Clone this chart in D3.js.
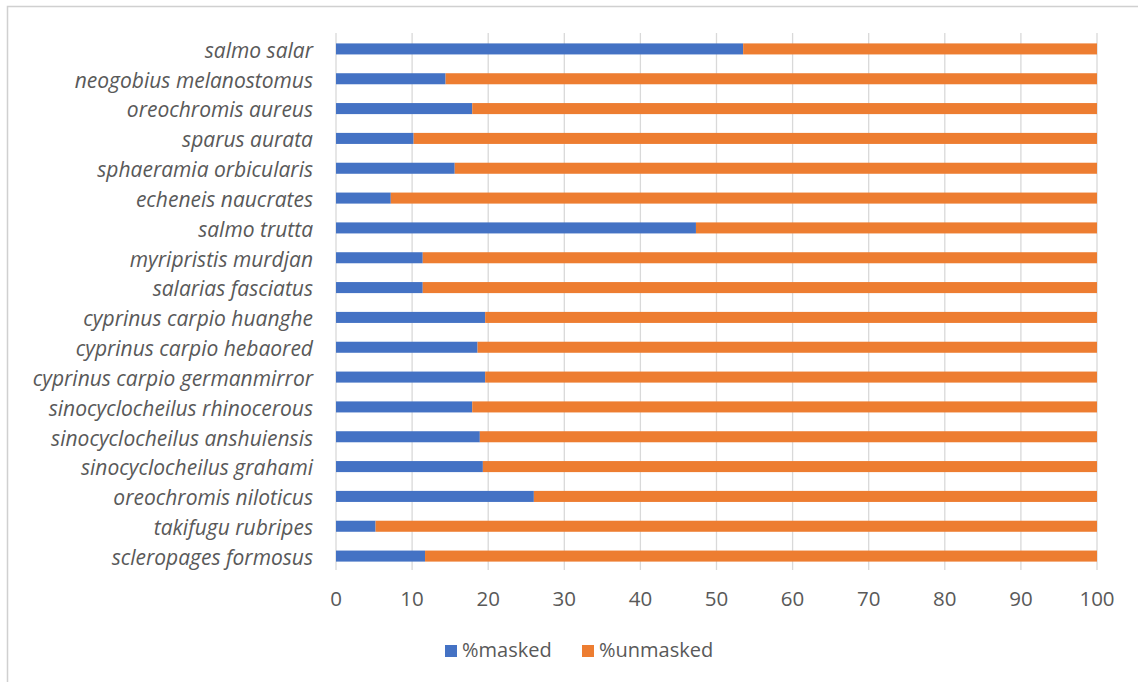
<!DOCTYPE html>
<html><head><meta charset="utf-8">
<script src="https://cdn.jsdelivr.net/npm/d3@7"></script>
<style>body{margin:0;background:#fff;} svg{display:block;} text{font-family:"Open Sans",sans-serif;fill:#595959;}</style>
</head><body>
<svg id="chart" width="1138" height="682"></svg>
<script>
const categories = ["salmo salar","neogobius melanostomus","oreochromis aureus","sparus aurata","sphaeramia orbicularis","echeneis naucrates","salmo trutta","myripristis murdjan","salarias fasciatus","cyprinus carpio huanghe","cyprinus carpio hebaored","cyprinus carpio germanmirror","sinocyclocheilus rhinocerous","sinocyclocheilus anshuiensis","sinocyclocheilus grahami","oreochromis niloticus","takifugu rubripes","scleropages formosus"];
const masked = [53.5,14.4,17.9,10.2,15.6,7.2,47.3,11.4,11.4,19.6,18.6,19.6,17.9,18.9,19.3,26.0,5.2,11.7];
const unmasked = masked.map(v => 100 - v);
const seriesNames = ["%masked","%unmasked"];
const colors = ["#4472C4","#ED7D31"];
const xTicks = [0,10,20,30,40,50,60,70,80,90,100];

const svg = d3.select("#chart");
svg.append("rect").attr("x",7.5).attr("y",6.5).attr("width",1200).attr("height",800)
  .attr("fill","none").attr("stroke","#d0d0d0").attr("stroke-width",1.5);

const x = d3.scaleLinear().domain([0,100]).range([336,1097]);
const y = d3.scaleBand().domain(categories).range([34,571]).paddingInner(0.63).paddingOuter(0.315);

// gridlines
svg.append("g").selectAll("line").data(xTicks).join("line")
  .attr("x1",d=>x(d)).attr("x2",d=>x(d)).attr("y1",33).attr("y2",570)
  .attr("stroke","#d9d9d9").attr("stroke-width",1.3);

const rows = categories.map((c,i)=>({c, m:masked[i], u:unmasked[i]}));
const stack = d3.stack().keys(["m","u"])(rows);
svg.append("g").selectAll("g").data(stack).join("g").attr("fill",(d,i)=>colors[i])
  .selectAll("rect").data(d=>d).join("rect")
  .attr("x",d=>x(d[0])).attr("width",d=>x(d[1])-x(d[0]))
  .attr("y",d=>y(d.data.c)).attr("height",y.bandwidth());

// category labels
svg.append("g").selectAll("text").data(categories).join("text")
  .attr("x",313).attr("y",d=>y(d)+y.bandwidth()/2).attr("dy","0.42em")
  .attr("text-anchor","end").attr("font-style","italic").attr("font-size",21)
  .text(d=>d);

// x tick labels
svg.append("g").selectAll("text").data(xTicks).join("text")
  .attr("x",d=>x(d)).attr("y",606).attr("text-anchor","middle").attr("font-size",20.5)
  .text(d=>d);

// legend
const legX = [445,582];
const lg = svg.append("g").selectAll("g").data(seriesNames).join("g");
lg.append("rect").attr("x",(d,i)=>legX[i]).attr("y",645).attr("width",12).attr("height",12).attr("fill",(d,i)=>colors[i]);
lg.append("text").attr("x",(d,i)=>legX[i]+17).attr("y",657).attr("font-size",20).text(d=>d);
</script>
</body></html>
